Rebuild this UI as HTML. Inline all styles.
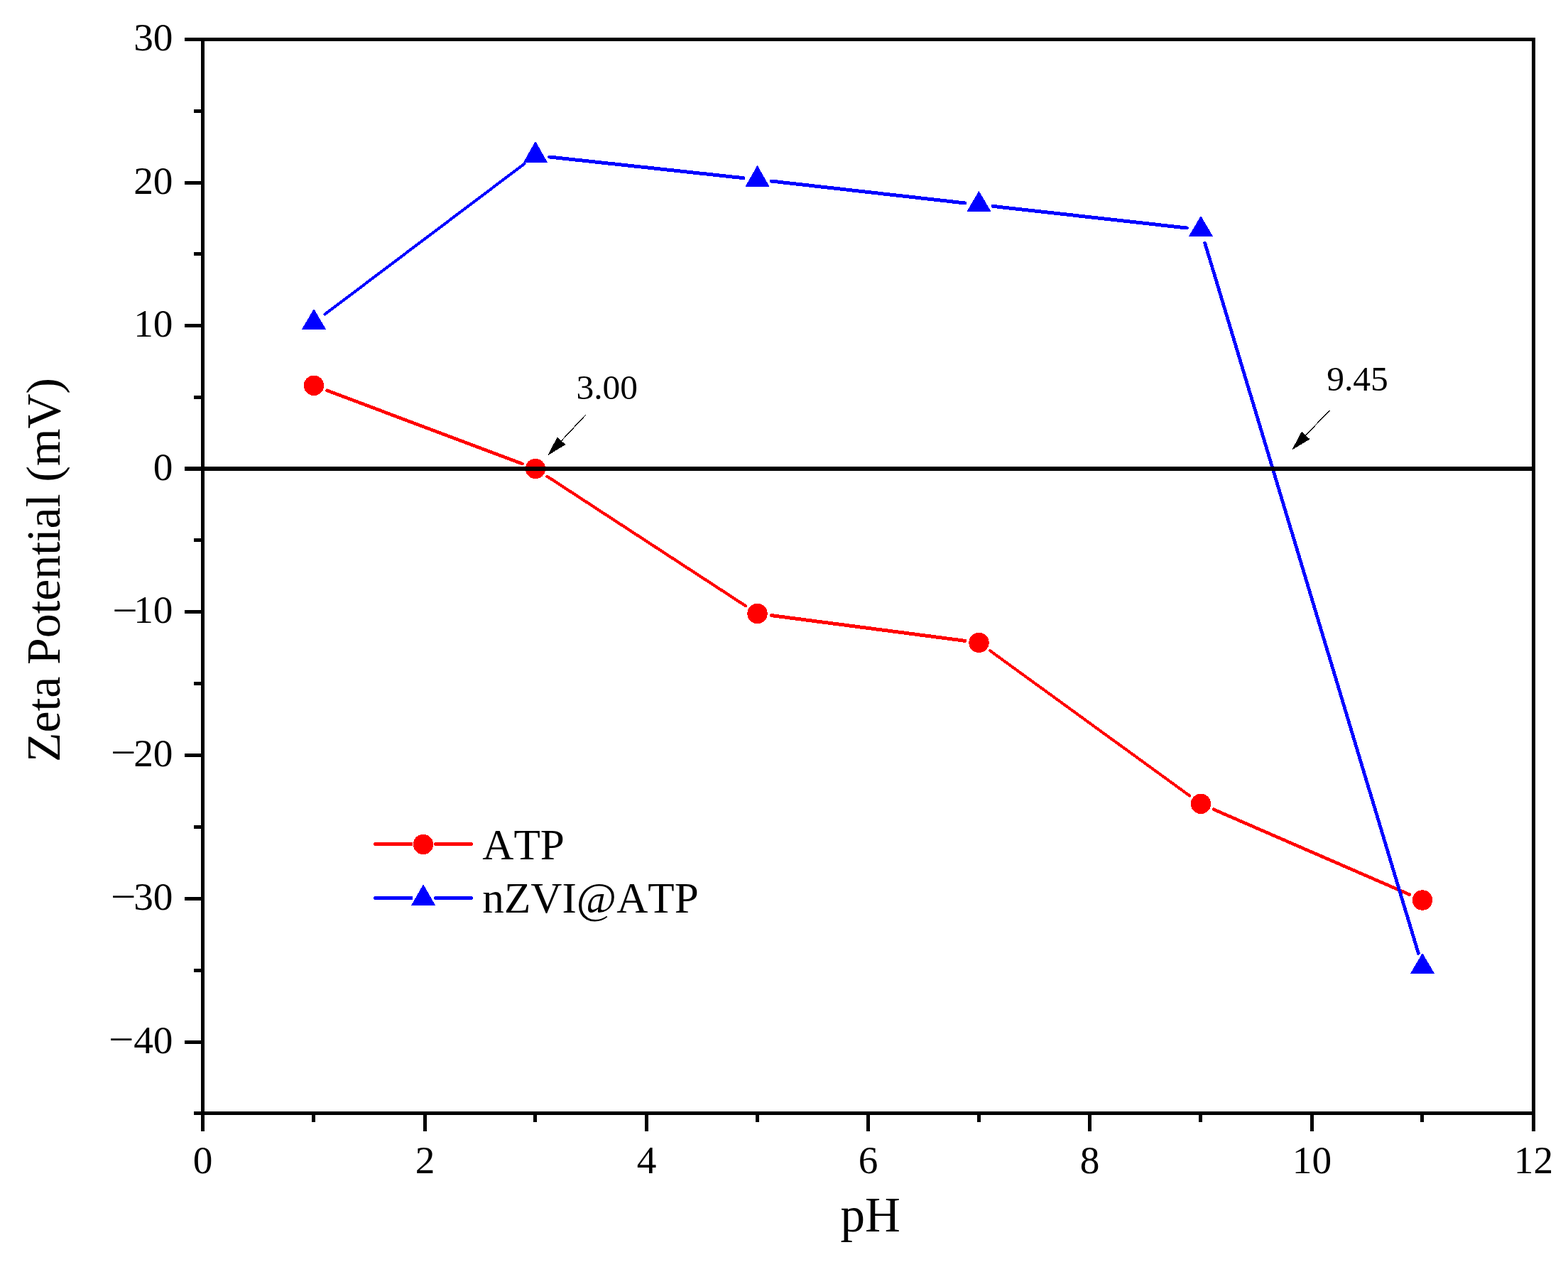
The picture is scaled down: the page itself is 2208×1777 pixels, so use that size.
<!DOCTYPE html>
<html lang="en"><head><meta charset="utf-8"><title>Zeta Potential vs pH</title>
<style>html,body{margin:0;padding:0;background:#fff;}body{width:2208px;height:1777px;overflow:hidden;}svg{display:block;}text{font-family:"Liberation Serif",serif;fill:#000;font-kerning:none;}</style>
</head><body>
<svg width="2208" height="1777" viewBox="0 0 2208 1777">
<rect x="0" y="0" width="2208" height="1777" fill="#fff"/>
<g id="series-atp">
<g stroke="#ff0000" stroke-linecap="round" fill="none" shape-rendering="crispEdges"><line x1="460.48" y1="549.84" x2="735.52" y2="653.06" stroke-width="4.68"/><line x1="770.32" y1="670.66" x2="1050.18" y2="853.34" stroke-width="4.19"/><line x1="1086.21" y1="866.58" x2="1358.79" y2="902.32" stroke-width="4.96"/><line x1="1394.21" y1="916.31" x2="1675.29" y2="1120.49" stroke-width="4.05"/><line x1="1709.06" y1="1139.75" x2="1984.94" y2="1259.65" stroke-width="4.59"/></g>
<g fill="#ff0000" shape-rendering="crispEdges"><circle cx="442.00" cy="542.90" r="14.2"/><circle cx="754.00" cy="660.00" r="14.2"/><circle cx="1066.50" cy="864.00" r="14.2"/><circle cx="1378.50" cy="904.90" r="14.2"/><circle cx="1691.00" cy="1131.90" r="14.2"/><circle cx="2003.00" cy="1267.50" r="14.2"/></g>
</g>
<g id="series-nzvi">
<g stroke="#0000ff" stroke-linecap="round" fill="none" shape-rendering="crispEdges"><line x1="457.48" y1="442.52" x2="738.52" y2="230.55" stroke-width="3.99"/><line x1="773.77" y1="221.02" x2="1046.73" y2="250.68" stroke-width="4.97"/><line x1="1086.26" y1="255.07" x2="1358.74" y2="285.96" stroke-width="4.97"/><line x1="1398.26" y1="290.42" x2="1671.24" y2="321.02" stroke-width="4.97"/><line x1="1696.70" y1="342.19" x2="1997.30" y2="1342.34" stroke-width="4.79"/></g>
<g fill="#0000ff" shape-rendering="crispEdges"><polygon points="442.00,434.80 424.90,463.90 459.10,463.90"/><polygon points="754.00,198.80 736.90,228.90 771.10,228.90"/><polygon points="1066.50,232.70 1049.40,262.90 1083.60,262.90"/><polygon points="1378.50,268.80 1361.40,297.90 1395.60,297.90"/><polygon points="1691.00,303.90 1673.90,332.90 1708.10,332.90"/><polygon points="2003.00,1341.90 1985.90,1371.00 2020.10,1371.00"/></g>
</g>
<line x1="260" y1="660" x2="2160" y2="660" stroke="#000" stroke-width="6"/>
<rect x="285.50" y="55.50" width="1874.00" height="1512.00" fill="none" stroke="#000" stroke-width="5"/>
<g stroke="#000" stroke-width="5"><line x1="285.5" y1="1570.0" x2="285.5" y2="1593.0"/><line x1="441.5" y1="1570.0" x2="441.5" y2="1580.0"/><line x1="598.5" y1="1570.0" x2="598.5" y2="1593.0"/><line x1="753.5" y1="1570.0" x2="753.5" y2="1580.0"/><line x1="910.5" y1="1570.0" x2="910.5" y2="1593.0"/><line x1="1066.5" y1="1570.0" x2="1066.5" y2="1580.0"/><line x1="1222.5" y1="1570.0" x2="1222.5" y2="1593.0"/><line x1="1378.5" y1="1570.0" x2="1378.5" y2="1580.0"/><line x1="1534.5" y1="1570.0" x2="1534.5" y2="1593.0"/><line x1="1690.5" y1="1570.0" x2="1690.5" y2="1580.0"/><line x1="1847.5" y1="1570.0" x2="1847.5" y2="1593.0"/><line x1="2002.5" y1="1570.0" x2="2002.5" y2="1580.0"/><line x1="2159.5" y1="1570.0" x2="2159.5" y2="1593.0"/><line x1="273.0" y1="1567.5" x2="283.0" y2="1567.5"/><line x1="260.0" y1="1467.5" x2="283.0" y2="1467.5"/><line x1="273.0" y1="1366.5" x2="283.0" y2="1366.5"/><line x1="260.0" y1="1265.5" x2="283.0" y2="1265.5"/><line x1="273.0" y1="1164.5" x2="283.0" y2="1164.5"/><line x1="260.0" y1="1063.5" x2="283.0" y2="1063.5"/><line x1="273.0" y1="962.5" x2="283.0" y2="962.5"/><line x1="260.0" y1="861.5" x2="283.0" y2="861.5"/><line x1="273.0" y1="760.5" x2="283.0" y2="760.5"/><line x1="273.0" y1="559.5" x2="283.0" y2="559.5"/><line x1="260.0" y1="458.5" x2="283.0" y2="458.5"/><line x1="273.0" y1="357.5" x2="283.0" y2="357.5"/><line x1="260.0" y1="257.5" x2="283.0" y2="257.5"/><line x1="273.0" y1="156.5" x2="283.0" y2="156.5"/><line x1="260.0" y1="55.5" x2="283.0" y2="55.5"/></g>
<g font-size="55.3" text-anchor="middle">
<text x="285.50" y="1652.00">0</text>
<text x="598.50" y="1652.00">2</text>
<text x="910.50" y="1652.00">4</text>
<text x="1222.50" y="1652.00">6</text>
<text x="1534.50" y="1652.00">8</text>
<text x="1847.50" y="1652.00">10</text>
<text x="2159.50" y="1652.00">12</text>
</g>
<g font-size="55.3">
<text x="188.20" y="71.10">30</text>
<text x="188.20" y="273.10">20</text>
<text x="188.20" y="474.10">10</text>
<text x="215.85" y="676.10">0</text>
<text><tspan x="157.95" y="878.36" textLength="35.54" lengthAdjust="spacingAndGlyphs">−</tspan><tspan x="188.20" y="877.10">10</tspan></text>
<text><tspan x="155.75" y="1077.76" textLength="35.54" lengthAdjust="spacingAndGlyphs">−</tspan><tspan x="188.20" y="1079.10">20</tspan></text>
<text><tspan x="155.75" y="1280.96" textLength="35.54" lengthAdjust="spacingAndGlyphs">−</tspan><tspan x="188.20" y="1281.10">30</tspan></text>
<text><tspan x="152.65" y="1482.46" textLength="35.54" lengthAdjust="spacingAndGlyphs">−</tspan><tspan x="188.20" y="1483.10">40</tspan></text>
</g>
<text x="1183.45" y="1734.00" font-size="69">pH</text>
<text transform="translate(84.10,1072.90) rotate(-90)" font-size="68" letter-spacing="-0.163">Zeta Potential (mV)</text>
<g id="legend">
<g stroke-width="5" stroke-linecap="round" shape-rendering="crispEdges">
<line x1="528.5" y1="1188.5" x2="579" y2="1188.5" stroke="#ff0000"/><line x1="613.5" y1="1188.5" x2="663.6" y2="1188.5" stroke="#ff0000"/>
<line x1="528.5" y1="1264.5" x2="579" y2="1264.5" stroke="#0000ff"/><line x1="613.5" y1="1264.5" x2="663.6" y2="1264.5" stroke="#0000ff"/>
</g>
<g fill="#ff0000" shape-rendering="crispEdges"><circle cx="596.00" cy="1189.00" r="14.2"/></g>
<g fill="#0000ff" shape-rendering="crispEdges"><polygon points="596.10,1245.10 579.00,1275.10 613.20,1275.10"/></g>
<text x="679.30" y="1209.90" font-size="61.2">ATP</text>
<text x="679.30" y="1284.60" font-size="61.2">nZVI@ATP</text>
</g>
<g id="annotations">
<line x1="824.60" y1="584.30" x2="790.57" y2="620.69" stroke="#000" stroke-width="1.3" shape-rendering="crispEdges"/><polygon points="771.10,641.50 784.83,615.32 796.30,626.05" fill="#000" shape-rendering="crispEdges"/>
<line x1="1872.30" y1="577.80" x2="1838.77" y2="612.97" stroke="#000" stroke-width="1.3" shape-rendering="crispEdges"/><polygon points="1819.10,633.60 1833.08,607.56 1844.45,618.39" fill="#000" shape-rendering="crispEdges"/>
<text x="811.40" y="561.50" font-size="49.5">3.00</text>
<text x="1868.20" y="550.40" font-size="49.5">9.45</text>
</g>
</svg>
</body></html>
